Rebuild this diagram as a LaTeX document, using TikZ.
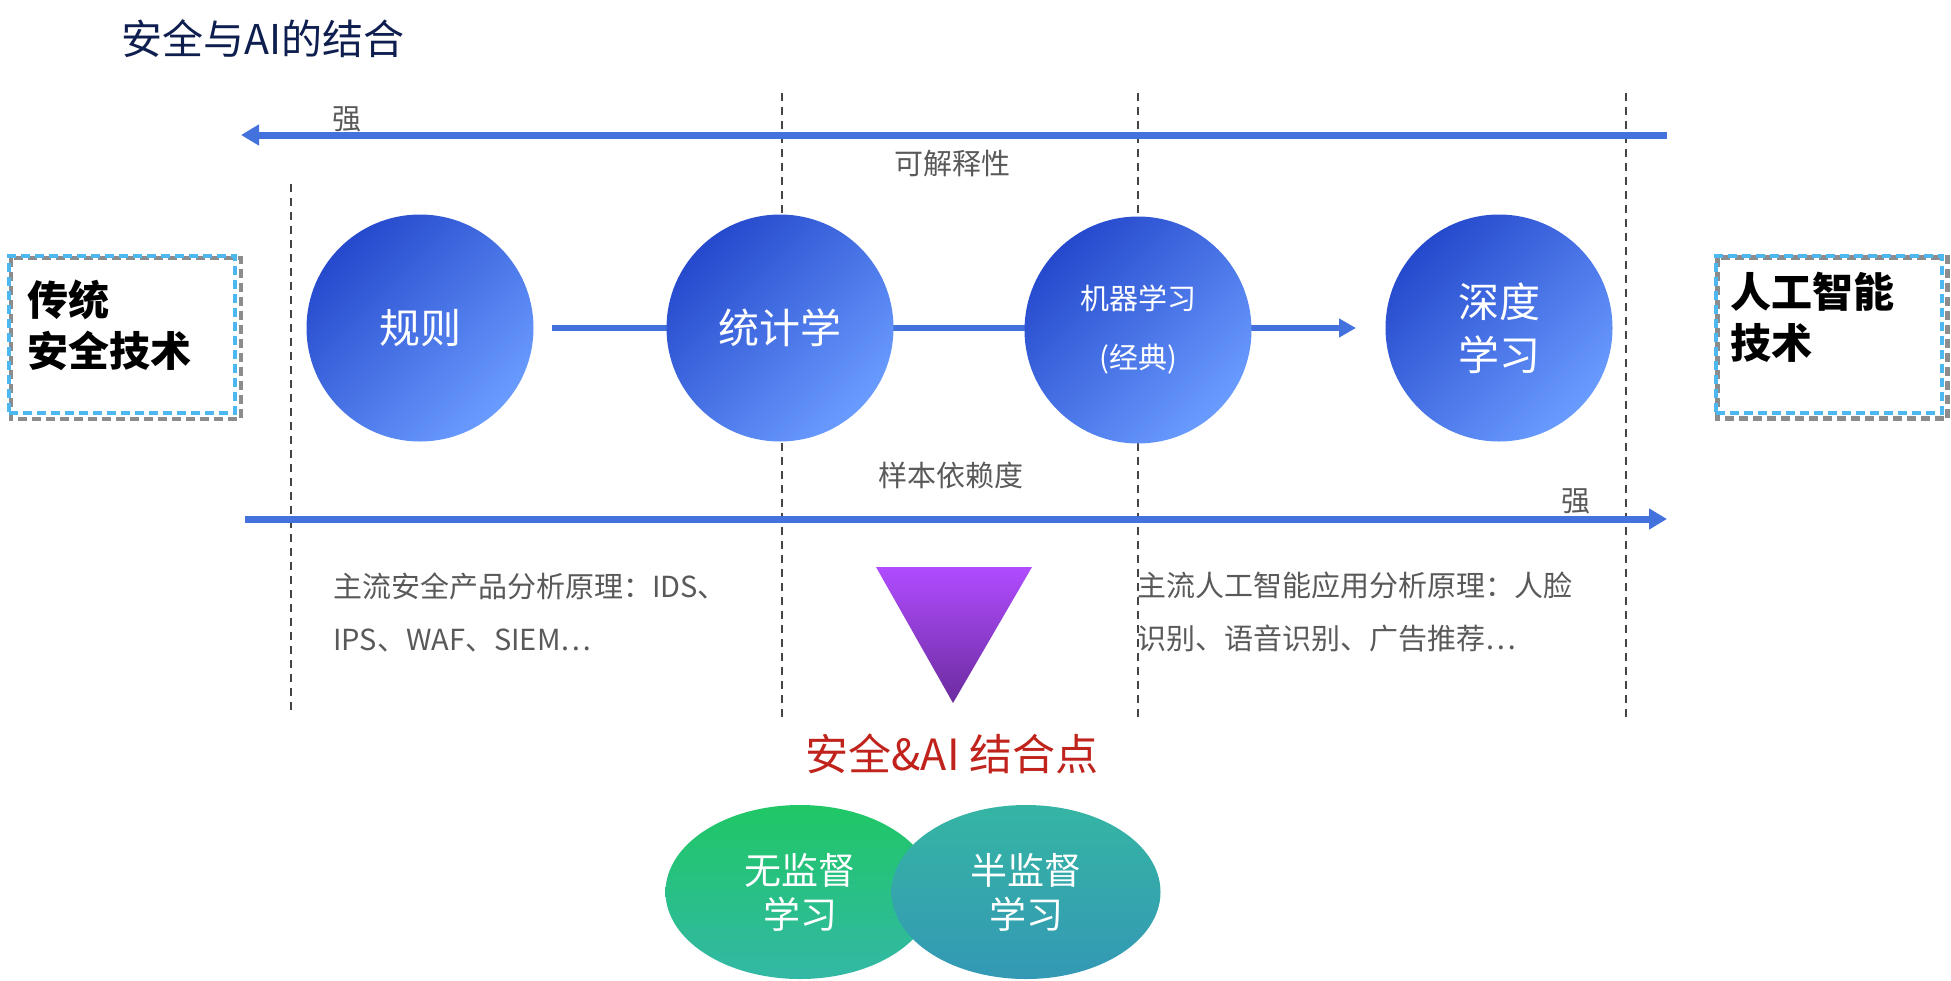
\documentclass[tikz,border=0pt]{standalone}
\usepackage{fontspec}
\setmainfont{Noto Sans CJK SC}
\usetikzlibrary{shapes.geometric,arrows.meta}
\definecolor{arrowblue}{HTML}{4472DD}
\definecolor{cdark}{HTML}{2549CC}
\definecolor{clight}{HTML}{6A9CFF}
\definecolor{dashgray}{HTML}{444444}
\definecolor{txtgray}{HTML}{595959}
\definecolor{titleblue}{HTML}{0E1E4E}
\definecolor{boxblue}{HTML}{4DB8F0}
\definecolor{redtxt}{HTML}{C0221C}
\definecolor{tritop}{HTML}{B04CFF}
\definecolor{tribot}{HTML}{6B2C9E}
\definecolor{gtop}{HTML}{1FC765}
\definecolor{gbot}{HTML}{33B8A6}
\definecolor{ttop}{HTML}{35B5A3}
\definecolor{tbot}{HTML}{3398B5}
\newcommand\myfs[2]{\fontsize{#1}{#2}\selectfont}
\begin{document}
\begin{tikzpicture}[x=1pt,y=-1pt,
  vdash/.style={draw=dashgray, line width=2pt, dash pattern=on 8pt off 6pt},
  bigarrow/.style={draw=arrowblue, line width=7pt, -{Triangle[length=18pt,width=20pt]}},
  linkarrow/.style={draw=arrowblue, line width=6pt, -{Triangle[length=17pt,width=18pt]}},
  ball/.style={circle, minimum size=227pt, inner sep=0pt, top color=cdark, bottom color=clight, shading angle=45, text=white, align=center},
  ell/.style={ellipse, minimum width=269pt, minimum height=174pt, inner sep=0pt, text=white, align=center, font=\myfs{37}{44}},
  glabel/.style={text=txtgray, inner sep=0pt, font=\myfs{29}{35}},
  boxframe/.style={draw=boxblue, line width=4pt, dash pattern=on 9pt off 5pt, minimum width=226pt, minimum height=157pt, inner sep=0pt},
  boxshadow/.style={draw=black, opacity=0.45, line width=4.5pt, dash pattern=on 9pt off 5pt},
  boxtext/.style={anchor=west, align=left, inner sep=0pt, font=\bfseries\myfs{41}{51}}
]
\useasboundingbox (0,0) rectangle (1951,980);

% title
\node[anchor=west, inner sep=0pt, text=titleblue, font=\myfs{41}{49}] (title) at (121,39) {安全与AI的结合};

% dashed vertical lines
\coordinate (v1t) at (291,184); \coordinate (v1b) at (291,712);
\coordinate (v2t) at (782,93);  \coordinate (v2b) at (782,717);
\coordinate (v3t) at (1138,93); \coordinate (v3b) at (1138,717);
\coordinate (v4t) at (1626,93); \coordinate (v4b) at (1626,717);
\draw[vdash] (v1t) -- (v1b);
\draw[vdash] (v2t) -- (v2b);
\draw[vdash] (v3t) -- (v3b);
\draw[vdash] (v4t) -- (v4b);

% top arrow
\coordinate (ta1) at (1667,135); \coordinate (ta2) at (241,135);
\draw[bigarrow] (ta1) -- (ta2);
\node[glabel] (s1) at (347,119) {强};
\node[glabel] (interp) at (952,164) {可解释性};

% bottom arrow
\coordinate (ba1) at (245,519); \coordinate (ba2) at (1667,519);
\draw[bigarrow] (ba1) -- (ba2);
\node[glabel] (s2) at (1576,501) {强};
\node[glabel] (dep) at (951,475) {样本依赖度};

% circles (positions) and connector
\coordinate (p1) at (420,328);
\coordinate (p4) at (1499,328);
\path (p1) node[ball, font=\myfs{41}{49}] (c1) {规则};
\draw[linkarrow, shorten <=18pt, shorten >=30pt] (c1.east) -- (p4 -| 1386,0);
\node[ball, font=\myfs{41}{49}] (c2) at (780,328) {统计学};
\node[ball, font=\myfs{29}{59}] (c3) at (1138,330) {机器学习\\(经典)};
\path (p4) node[ball, font=\myfs{41}{53}] (c4) {深度\\学习};

% bottom texts
\node[glabel, anchor=west, align=left, font=\myfs{29}{53}] (ltxt) at (333,612) {主流安全产品分析原理：IDS、\\IPS、WAF、SIEM…};
\node[glabel, anchor=west, align=left, font=\myfs{29}{53}] (rtxt) at (1137,612) {主流人工智能应用分析原理：人脸\\识别、语音识别、广告推荐…};

% triangle
\coordinate (t1) at (876,567); \coordinate (t2) at (1032,567); \coordinate (t3) at (953,703);
\shade[top color=tritop, bottom color=tribot] (t1) -- (t2) -- (t3) -- cycle;
\node[inner sep=0pt, text=redtxt, font=\myfs{43}{50}] (joint) at (952,754) {安全\&AI 结合点};

% ellipses
\node[ell, top color=gtop, bottom color=gbot] (e1) at (800,892) {无监督\\学习};
\node[ell, top color=ttop, bottom color=tbot] (e2) at (1026,892) {半监督\\学习};

% left box
\node[boxframe] (lbox) at (122,334.5) {};
\draw[boxshadow] ([shift={(4pt,-4pt)}]lbox.north west) rectangle ([shift={(4pt,-4pt)}]lbox.south east);
\node[boxframe] at (lbox.center) {};
\node[boxtext] (ltitle) at (27,325.5) {传统\\安全技术};

% right box
\node[boxframe] (rbox) at (1828.5,334) {};
\draw[boxshadow] ([shift={(4pt,-4pt)}]rbox.north west) rectangle ([shift={(4pt,-4pt)}]rbox.south east);
\node[boxframe] at (rbox.center) {};
\node[boxtext] (rtitle) at (1730,317.5) {人工智能\\技术};
\end{tikzpicture}
\end{document}
